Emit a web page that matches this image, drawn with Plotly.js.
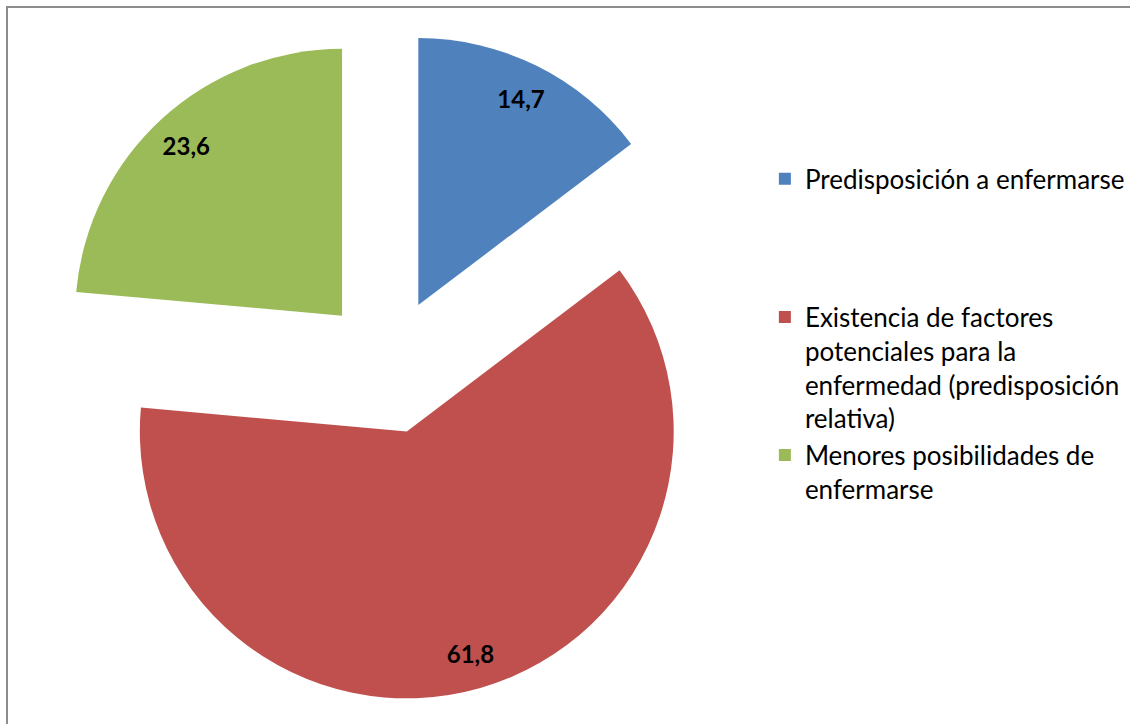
<!DOCTYPE html>
<html>
<head>
<meta charset="utf-8">
<script src="https://cdn.plot.ly/plotly-3.0.1.min.js"></script>
<style>
  html, body { margin: 0; padding: 0; background: #ffffff; }
  #frame { position: absolute; left: 6px; top: 6px; width: 1300px; height: 900px;
           border-left: 2px solid #8c8c8c; border-top: 2px solid #8c8c8c; }
  #chart { position: absolute; left: 0; top: 0; width: 1130px; height: 724px; }
</style>
</head>
<body>
<div id="frame"></div>
<div id="chart"></div>
<script>
// ---- data ----
const categories = [
  'Predisposición a enfermarse',
  'Existencia de factores<br>potenciales para la<br>enfermedad (predisposición<br>relativa)',
  'Menores posibilidades de<br>enfermarse'
];
const legendPadding = ['<br>\u00a0<br>\u00a0<br>\u00a0', '', ''];
const values = [14.7, 61.8, 23.6];
const sliceColors = ['#4F81BD', '#C0504D', '#9BBB59'];

const legendLabels = categories.map((c, i) => c + legendPadding[i]);
const pullAmount = values.map(() => 0.255);

const mainPie = {
  type: 'pie',
  labels: legendLabels,
  values: values,
  sort: false,
  direction: 'clockwise',
  rotation: 0,
  pull: pullAmount,
  marker: { colors: sliceColors, line: { width: 0 } },
  textinfo: 'none',
  hoverinfo: 'label+value',
  showlegend: true
};

const labelPie = {
  type: 'pie',
  labels: legendLabels,
  values: values,
  sort: false,
  direction: 'clockwise',
  rotation: 0,
  pull: pullAmount,
  hole: 0.73,
  marker: { colors: values.map(() => 'rgba(0,0,0,0)'), line: { width: 0 } },
  texttemplate: '%{value:.1f}',
  textposition: 'inside',
  insidetextorientation: 'horizontal',
  insidetextfont: { family: 'Lato, sans-serif', size: 24, color: '#000000', weight: 'bold' },
  hoverinfo: 'skip',
  showlegend: false
};

const layout = {
  width: 1130,
  height: 724,
  separators: ',.',
  margin: { l: 53, r: 407, t: 31, b: 23, autoexpand: false },
  paper_bgcolor: 'rgba(0,0,0,0)',
  plot_bgcolor: 'rgba(0,0,0,0)',
  showlegend: true,
  legend: {
    x: 1.0625, xanchor: 'left',
    y: 0.8145, yanchor: 'top',
    valign: 'top',
    font: { family: 'Lato, sans-serif', size: 26, color: '#000000' },
    bgcolor: 'rgba(0,0,0,0)',
    borderwidth: 0
  }
};

Plotly.newPlot('chart', [mainPie, labelPie], layout, { displayModeBar: false, staticPlot: true });
</script>
</body>
</html>
